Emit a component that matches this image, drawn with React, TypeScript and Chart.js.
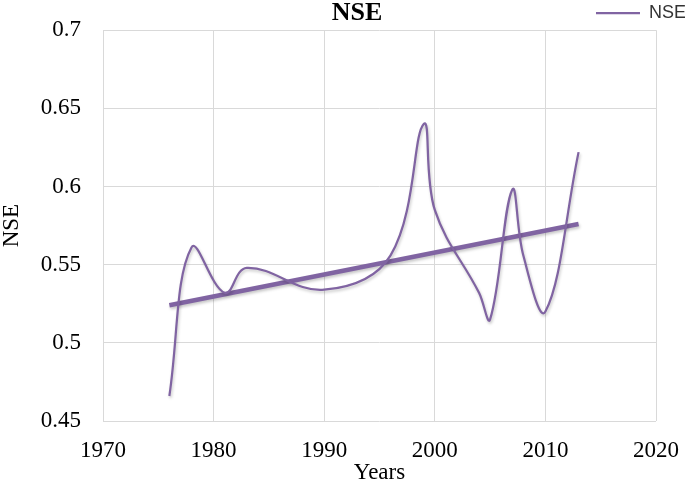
import React, { useEffect, useRef } from "react";
import { Chart, registerables } from "chart.js";

Chart.register(...registerables);

const years = [1976, 1978, 1981, 1983, 1990, 1996, 1999, 2000, 2004, 2005, 2007, 2008, 2010, 2013];
const nseValues = [0.466, 0.561, 0.532, 0.548, 0.534, 0.556, 0.640, 0.585, 0.532, 0.515, 0.598, 0.556, 0.520, 0.622];
const trendYears = [1976, 2013];
const trendValues = [0.524, 0.576];
const xTicks = [1970, 1980, 1990, 2000, 2010, 2020];
const yTicks = [0.45, 0.5, 0.55, 0.6, 0.65, 0.7];

const PURPLE = "#8064A2";
const SERIF = '"Liberation Serif", "Times New Roman", serif';

const shadowPlugin = {
  id: "lineShadow",
  beforeDatasetDraw(chart: any) {
    const ctx = chart.ctx;
    ctx.save();
    ctx.shadowColor = "rgba(0,0,0,0.22)";
    ctx.shadowBlur = 3;
    ctx.shadowOffsetX = 1;
    ctx.shadowOffsetY = 2;
  },
  afterDatasetDraw(chart: any) {
    chart.ctx.restore();
  },
};

const placeBoxesPlugin = {
  id: "placeBoxes",
  afterLayout(chart: any) {
    const t = chart.titleBlock;
    if (t) {
      t.left = 29;
      t.right = 685;
      t.top = 0;
    }
    const l = chart.legend;
    if (l) {
      l.right = 690;
      l.top = 0;
    }
  },
};

export default function App() {
  const ref = useRef<HTMLCanvasElement | null>(null);
  useEffect(() => {
    if (!ref.current) return;
    const chart = new Chart(ref.current, {
      type: "line",
      data: {
        datasets: [
          {
            label: "NSE",
            data: years.map((y, i) => ({ x: y, y: nseValues[i] })),
            borderColor: PURPLE,
            backgroundColor: PURPLE,
            borderWidth: 2.25,
            pointRadius: 0,
            tension: 0.4,
            fill: false,
          },
          {
            label: "Trend",
            data: trendYears.map((y, i) => ({ x: y, y: trendValues[i] })),
            borderColor: PURPLE,
            backgroundColor: PURPLE,
            borderWidth: 4.5,
            pointRadius: 0,
            tension: 0,
            fill: false,
          },
        ],
      },
      options: {
        responsive: false,
        animation: false,
        devicePixelRatio: 1,
        layout: { padding: { left: 0, right: 29, top: 0, bottom: 0 } },
        plugins: {
          title: {
            display: true,
            text: "NSE",
            color: "#000",
            font: { family: SERIF, size: 26, weight: "bold" },
            padding: { top: -2, bottom: -29 },
          },
          legend: {
            display: true,
            position: "top",
            align: "end",
            maxHeight: 30,
            labels: {
              filter: (item: any) => item.text === "NSE",
              usePointStyle: true,
              pointStyle: "line",
              pointStyleWidth: 44,
              padding: 4,
              color: "#333",
              font: { family: '"Liberation Sans", Arial, sans-serif', size: 18 },
            },
          },
          tooltip: { enabled: false },
        },
        scales: {
          x: {
            type: "linear",
            min: 1970,
            max: 2020,
            afterBuildTicks: (scale: any) => {
              scale.ticks = xTicks.map((v) => ({ value: v }));
            },
            afterFit: (scale: any) => {
              scale.height = 73;
              scale.paddingLeft = 0;
              scale.paddingRight = 0;
            },
            ticks: {
              color: "#000",
              padding: 16,
              maxRotation: 0,
              font: { family: SERIF, size: 23 },
              callback: (v: any) => String(v),
            },
            grid: { color: "#d9d9d9", lineWidth: 1, drawTicks: false },
            border: { display: false },
            title: {
              display: true,
              text: "Years",
              color: "#000",
              font: { family: SERIF, size: 23 },
              padding: { top: 7, bottom: 7 },
            },
          },
          y: {
            type: "linear",
            min: 0.45,
            max: 0.7,
            afterBuildTicks: (scale: any) => {
              scale.ticks = yTicks.map((v) => ({ value: v }));
            },
            afterFit: (scale: any) => {
              scale.width = 103;
              scale.paddingTop = 0;
              scale.paddingBottom = 0;
            },
            ticks: {
              color: "#000",
              padding: 22,
              font: { family: SERIF, size: 23 },
              callback: (v: any) => String(v),
            },
            grid: { color: "#d9d9d9", lineWidth: 1, drawTicks: false },
            border: { display: false },
            title: {
              display: true,
              text: "NSE",
              color: "#000",
              font: { family: SERIF, size: 23 },
              padding: { top: -2, bottom: -2 },
            },
          },
        },
      },
      plugins: [shadowPlugin, placeBoxesPlugin],
    } as any);
    return () => chart.destroy();
  }, []);
  return (
    <div style={{ position: "fixed", left: 0, top: 0, width: 685, height: 494, background: "#fff" }}>
      <canvas ref={ref} width={685} height={494} style={{ display: "block" }} />
    </div>
  );
}
